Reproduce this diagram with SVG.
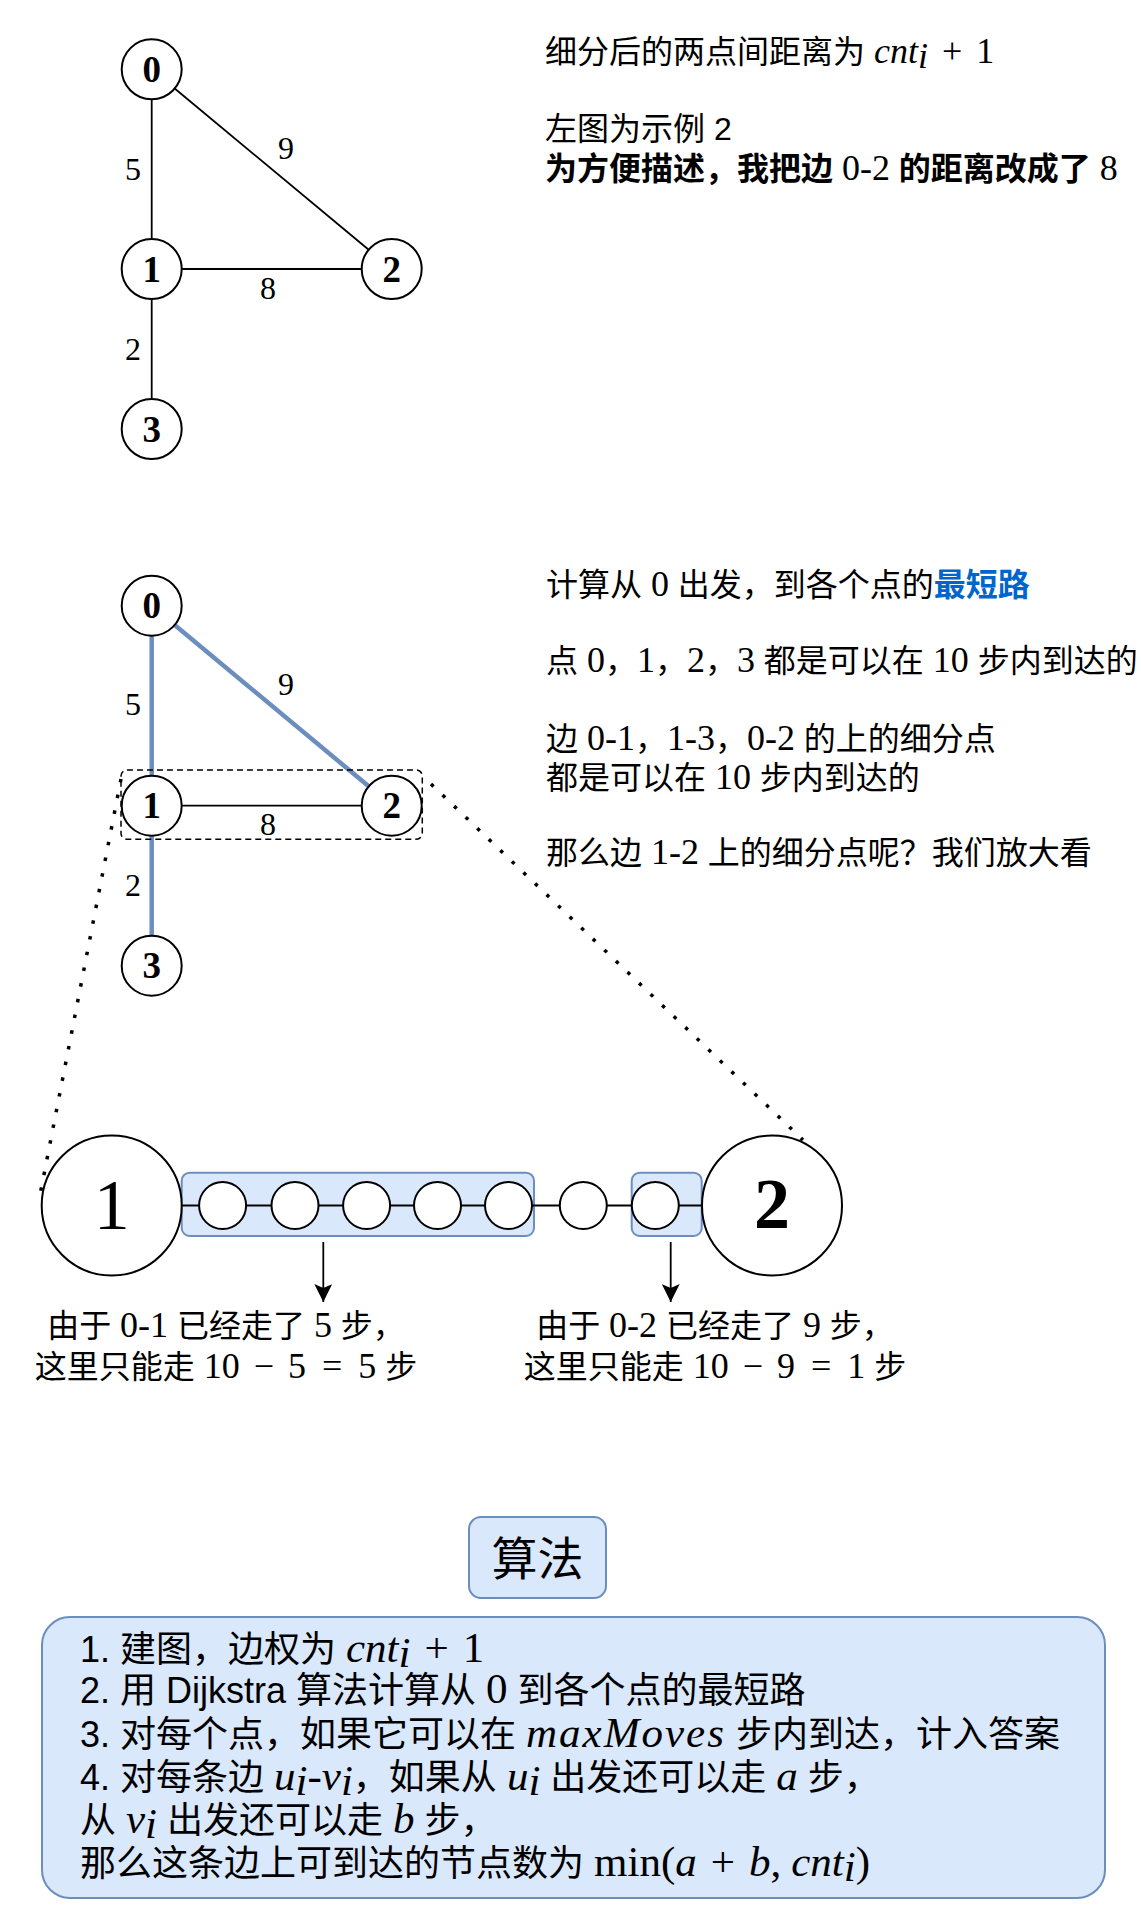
<svg xmlns="http://www.w3.org/2000/svg" width="1141" height="1930" viewBox="0 0 1141 1930">
<style>
.node circle{fill:#fff;stroke:#000;stroke-width:2}
.nl{font-family:"Liberation Serif",serif;font-size:37px;font-weight:bold;text-anchor:middle;fill:#000}
.el{font-family:"Liberation Serif",serif;font-size:32px;text-anchor:middle;fill:#000}
.t{font-family:"Liberation Sans","Noto Sans CJK SC",sans-serif;font-size:32px;fill:#000}
.b{font-family:"Liberation Sans","Noto Sans CJK SC",sans-serif;font-size:36px;fill:#000}
.m{font-family:"Liberation Serif",serif;font-size:36px}
.bm{font-family:"Liberation Serif",serif;font-size:43px}
.mi{font-style:italic}
.edge{stroke:#000;stroke-width:1.8;fill:none}
.blue{stroke:#6c8ebf;stroke-width:4.5;fill:none}
.dots{stroke:#000;stroke-width:3.5;stroke-dasharray:3.5 12.5;fill:none}
.box{fill:#dae8fc;stroke:#6c8ebf;stroke-width:2}
</style>
<defs>
<marker id="arr" markerUnits="userSpaceOnUse" markerWidth="18" markerHeight="18" refX="18" refY="9" orient="auto">
<path d="M0,0 L18,9 L0,18 L4,9 z" fill="#000"/>
</marker>
</defs>
<rect width="1141" height="1930" fill="#fff"/>

<g id="connectors">
<line class="edge" x1="151.7" y1="99.5" x2="151.7" y2="239"/>
<line class="edge" x1="174.7" y1="88.5" x2="368.7" y2="249.8"/>
<line class="edge" x1="181.7" y1="269" x2="361.7" y2="269"/>
<line class="edge" x1="151.7" y1="299" x2="151.7" y2="399"/>
<line class="blue" x1="151.7" y1="636" x2="151.7" y2="775.5"/>
<line class="blue" x1="174.7" y1="625" x2="368.7" y2="786.3"/>
<line class="edge" x1="181.7" y1="805.7" x2="361.7" y2="805.7"/>
<line class="blue" x1="151.7" y1="835.7" x2="151.7" y2="935.7"/>
<line class="dots" x1="121" y1="779" x2="40" y2="1195"/>
<line class="dots" x1="431" y1="784" x2="803" y2="1140"/>
<line class="edge" x1="323.3" y1="1242" x2="323.3" y2="1302" marker-end="url(#arr)"/>
<line class="edge" x1="670.7" y1="1242" x2="670.7" y2="1302" marker-end="url(#arr)"/>
</g>

<g id="edge-labels">
<text class="el" x="133" y="180">5</text>
<text class="el" x="286" y="159">9</text>
<text class="el" x="268" y="299">8</text>
<text class="el" x="133" y="360">2</text>
<text class="el" x="133" y="715">5</text>
<text class="el" x="286" y="695">9</text>
<text class="el" x="268" y="835">8</text>
<text class="el" x="133" y="896">2</text>
</g>

<g id="g1-n0" class="node"><circle cx="151.7" cy="69.3" r="30"/><text class="nl" x="151.7" y="82">0</text></g>
<g id="g1-n1" class="node"><circle cx="151.7" cy="269" r="30"/><text class="nl" x="151.7" y="281.5">1</text></g>
<g id="g1-n2" class="node"><circle cx="391.7" cy="269" r="30"/><text class="nl" x="391.7" y="281.5">2</text></g>
<g id="g1-n3" class="node"><circle cx="151.7" cy="429" r="30"/><text class="nl" x="151.7" y="441.5">3</text></g>

<g id="zoom-frame"><rect x="121" y="770" width="301.3" height="69.3" rx="6" fill="none" stroke="#000" stroke-width="1.5" stroke-dasharray="6 4"/></g>

<g id="g2-n0" class="node"><circle cx="151.7" cy="605.7" r="30"/><text class="nl" x="151.7" y="618.2">0</text></g>
<g id="g2-n1" class="node"><circle cx="151.7" cy="805.7" r="30"/><text class="nl" x="151.7" y="818.2">1</text></g>
<g id="g2-n2" class="node"><circle cx="391.7" cy="805.7" r="30"/><text class="nl" x="391.7" y="818.2">2</text></g>
<g id="g2-n3" class="node"><circle cx="151.7" cy="965.7" r="30"/><text class="nl" x="151.7" y="978.2">3</text></g>

<g id="text-top">
<text class="t" x="545" y="63">细分后的两点间距离为 <tspan class="m mi">cnt</tspan><tspan class="m mi" font-size="24" dy="5">i</tspan><tspan class="m" dy="-5" dx="14">+</tspan><tspan class="m" dx="14">1</tspan></text>
<text class="t" x="545" y="140">左图为示例 2</text>
<text class="t" x="545" y="180"><tspan font-weight="bold">为方便描述，我把边 </tspan><tspan class="m">0-2</tspan><tspan font-weight="bold"> 的距离改成了 </tspan><tspan class="m">8</tspan></text>
</g>

<g id="text-mid">
<text class="t" x="546" y="596">计算从 <tspan class="m">0</tspan> 出发，到各个点的<tspan font-weight="bold" fill="#0066cc">最短路</tspan></text>
<text class="t" x="546" y="672">点 <tspan class="m">0</tspan>，<tspan class="m">1</tspan>，<tspan class="m">2</tspan>，<tspan class="m">3</tspan> 都是可以在 <tspan class="m">10</tspan> 步内到达的</text>
<text class="t" x="546" y="750">边 <tspan class="m">0-1</tspan>，<tspan class="m">1-3</tspan>，<tspan class="m">0-2</tspan> 的上的细分点</text>
<text class="t" x="546" y="789">都是可以在 <tspan class="m">10</tspan> 步内到达的</text>
<text class="t" x="546" y="864">那么边 <tspan class="m">1-2</tspan> 上的细分点呢？我们放大看</text>
</g>

<g id="chain">
<rect class="box" x="181.7" y="1172.7" width="352.3" height="63.3" rx="8"/>
<rect class="box" x="631.7" y="1172.7" width="70" height="63.3" rx="8"/>
<line class="edge" x1="181.7" y1="1205.5" x2="702" y2="1205.5" style="stroke-width:2"/>
<g id="big-1" class="node"><circle cx="111.7" cy="1205.5" r="70"/><text x="111.7" y="1229" font-family="Liberation Serif, serif" font-size="72" text-anchor="middle">1</text></g>
<g id="big-2" class="node"><circle cx="772" cy="1205.5" r="70"/><text x="772" y="1228" font-family="Liberation Serif, serif" font-size="72" font-weight="bold" text-anchor="middle">2</text></g>
<g id="s1" class="node"><circle cx="222.6" cy="1205.5" r="23.5"/></g>
<g id="s2" class="node"><circle cx="295" cy="1205.5" r="23.5"/></g>
<g id="s3" class="node"><circle cx="366.6" cy="1205.5" r="23.5"/></g>
<g id="s4" class="node"><circle cx="437.5" cy="1205.5" r="23.5"/></g>
<g id="s5" class="node"><circle cx="508.5" cy="1205.5" r="23.5"/></g>
<g id="s6" class="node"><circle cx="583.3" cy="1205.5" r="23.5"/></g>
<g id="s7" class="node"><circle cx="655.3" cy="1205.5" r="23.5"/></g>
</g>

<g id="labels-bottom">
<text class="t" x="226" y="1337" text-anchor="middle">由于 <tspan class="m">0-1</tspan> 已经走了 <tspan class="m">5</tspan> 步，</text>
<text class="t" x="226" y="1378" text-anchor="middle">这里只能走 <tspan class="m">10</tspan><tspan class="m" dx="14">−</tspan><tspan class="m" dx="14">5</tspan><tspan class="m" dx="16">=</tspan><tspan class="m" dx="16">5</tspan> 步</text>
<text class="t" x="715" y="1337" text-anchor="middle">由于 <tspan class="m">0-2</tspan> 已经走了 <tspan class="m">9</tspan> 步，</text>
<text class="t" x="715" y="1378" text-anchor="middle">这里只能走 <tspan class="m">10</tspan><tspan class="m" dx="14">−</tspan><tspan class="m" dx="14">9</tspan><tspan class="m" dx="16">=</tspan><tspan class="m" dx="16">1</tspan> 步</text>
</g>

<g id="algo-title">
<rect class="box" x="469" y="1517" width="137" height="81" rx="12"/>
<text x="537.5" y="1575" font-family="Noto Sans CJK SC, sans-serif" font-size="46" text-anchor="middle">算法</text>
</g>

<g id="algo-steps">
<rect class="box" x="42" y="1617" width="1063" height="281" rx="28"/>
<text class="b" x="80" y="1662">1. 建图，边权为 <tspan class="bm mi">cnt</tspan><tspan class="bm mi" font-size="28" dy="5">i</tspan><tspan class="bm" dy="-5" dx="14">+</tspan><tspan class="bm" dx="14">1</tspan></text>
<text class="b" x="80" y="1703">2. 用 Dijkstra 算法计算从 <tspan class="bm">0</tspan> 到各个点的最短路</text>
<text class="b" x="80" y="1747">3. 对每个点，如果它可以在 <tspan class="bm mi" letter-spacing="2">maxMoves</tspan> 步内到达，计入答案</text>
<text class="b" x="80" y="1790">4. 对每条边 <tspan class="bm mi">u</tspan><tspan class="bm mi" font-size="28" dy="5">i</tspan><tspan class="bm" dy="-5">-</tspan><tspan class="bm mi">v</tspan><tspan class="bm mi" font-size="28" dy="5">i</tspan><tspan dy="-5">，如果从 </tspan><tspan class="bm mi">u</tspan><tspan class="bm mi" font-size="28" dy="5">i</tspan><tspan dy="-5"> 出发还可以走 </tspan><tspan class="bm mi">a</tspan> 步，</text>
<text class="b" x="80" y="1833">从 <tspan class="bm mi">v</tspan><tspan class="bm mi" font-size="28" dy="5">i</tspan><tspan dy="-5"> 出发还可以走 </tspan><tspan class="bm mi">b</tspan> 步，</text>
<text class="b" x="80" y="1876">那么这条边上可到达的节点数为 <tspan class="bm">min(</tspan><tspan class="bm mi">a</tspan><tspan class="bm" dx="14">+</tspan><tspan class="bm mi" dx="14">b</tspan><tspan class="bm">,</tspan><tspan class="bm mi" dx="10">cnt</tspan><tspan class="bm mi" font-size="28" dy="5">i</tspan><tspan class="bm" dy="-5">)</tspan></text>
</g>
</svg>
